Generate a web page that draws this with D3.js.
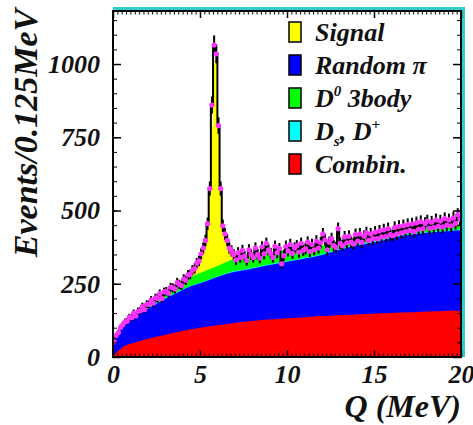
<!DOCTYPE html>
<html>
<head>
<meta charset="utf-8">
<script src="https://cdn.jsdelivr.net/npm/d3@7"></script>
<style>
body { margin: 0; background: #fff; }
</style>
</head>
<body>
<div id="chart"></div>
<script>
// background components sampled every 0.5 MeV (Q = 0 ... 20)
const gridQ = d3.range(0, 20.001, 0.5);
const combin = [2,32,45,54,62,69,76,83,89,95,100,104,108,112,116,120,123,126,128,130,132,134,136,138,140,141,143,144,145,147,148,149,150,152,153,154,155,156,157,158,158];
const randomPi = [28,73,85,94,103,113,123,131,140,147,152,158,165,171,175,176,179,182,186,189,193,196,200,203,208,216,223,230,236,239,243,249,256,260,264,266,269,270,271,273,275];
const dsDplus = [0,1,1,1,1,2,2,2,2,2,2,2,2,2,3,3,3,3,3,3,3,3,3,3,3,3,3,3,3,3,3,3,3,3,3,3,3,3,3,3,3];
const d0ThreeBody = [5,6,9,14,19,22,24,27,28,30,33,35,36,38,42,45,44,42,40,39,37,36,33,32,29,25,21,18,16,16,16,15,13,13,13,15,15,17,18,18,19];

// total fit including the signal, for the bins around the peak (bin low edges)
const signalQ = [4.25,4.375,4.5,4.625,4.75,4.875,5.0,5.125,5.25,5.375,5.5,5.625,5.75,5.875,6.0,6.125,6.25,6.375,6.5,6.625,6.75,6.875,7.0,7.125];
const signalTop = [280,286,293,301,312,326,345,368,395,440,560,790,1012,1005,790,585,462,420,402,384,360,348,340,338];

// data, 0.125 MeV bins from Q = 0 to 20
const dataCounts = [
  52,74,84,101,110,120,122,136, 134,150,140,156,158,172,162,180,
  180,194,184,202,200,216,200,222, 224,218,238,236,232,254,248,244,
  266,262,280,282,296,302,320,328, 352,372,398,455,575,860,1065,1035,
  790,575,448,420,398,372,362,350, 332,356,340,364,344,330,366,350,
  340,372,350,338,376,352,388,366, 354,340,378,356,370,318,346,378,
  362,384,354,372,380,358,388,364, 370,392,360,384,366,396,372,390,
  420,400,366,392,404,380,374,438, 388,380,410,390,412,392,386,418,
  396,420,392,412,424,398,420,404, 426,404,430,410,434,412,438,418,
  414,442,420,446,424,448,428,452, 432,454,428,458,436,462,438,456,
  464,440,460,442,468,446,464,444, 472,450,468,448,474,456,486,470
];

const xMajor = [0, 5, 10, 15, 20];
const yMajor = [0, 250, 500, 750, 1000];

const FONT = "'Liberation Serif', 'Times New Roman', 'DejaVu Serif', serif";
const W = 473, H = 425;
const x = d3.scaleLinear().domain([0, 20]).range([113, 461]);
const y = d3.scaleLinear().domain([0, 1181]).range([357, 11]);

const svg = d3.select("#chart").append("svg").attr("width", W).attr("height", H);

svg.append("defs").append("clipPath").attr("id", "plot")
  .append("rect").attr("x", 113).attr("y", 11).attr("width", 348).attr("height", 346);

const g = svg.append("g").attr("clip-path", "url(#plot)");

// signal drawn first, the background stack covers its lower part
const sigPts = signalQ.map((q, i) => [q, signalTop[i]]);
sigPts.push([signalQ[signalQ.length - 1] + 0.125, signalTop[signalTop.length - 1]]);
g.append("path").datum(sigPts)
  .attr("fill", "#ffff00")
  .attr("d", d3.area().x(d => x(d[0])).y0(y(0)).y1(d => y(d[1])).curve(d3.curveStepAfter));

// background stack
const rows = gridQ.map((q, i) => ({ q, combin: combin[i], randomPi: randomPi[i], dsDplus: dsDplus[i], d0ThreeBody: d0ThreeBody[i] }));
const keys = ["combin", "randomPi", "dsDplus", "d0ThreeBody"];
const colors = { combin: "#ff0000", randomPi: "#0000ff", dsDplus: "#00ffff", d0ThreeBody: "#00ff00", signal: "#ffff00" };
const stacked = d3.stack().keys(keys)(rows);
g.selectAll(".bkg").data(stacked.slice().reverse()).join("path")
  .attr("class", "bkg")
  .attr("fill", d => colors[d.key])
  .attr("d", d => d3.area().x(p => x(p.data.q)).y0(y(0)).y1(p => y(p[1])).curve(d3.curveMonotoneX)(d));

// data histogram, error bars and points
const binQ = d3.range(160).map(k => k * 0.125);
const histPts = binQ.map((q, i) => [q, dataCounts[i]]).concat([[20, dataCounts[159]]]);
g.append("path").datum(histPts)
  .attr("fill", "none").attr("stroke", "#000").attr("stroke-width", 2)
  .attr("d", d3.line().x(d => x(d[0])).y(d => y(d[1])).curve(d3.curveStepAfter));

g.selectAll(".err").data(dataCounts).join("line")
  .attr("class", "err")
  .attr("x1", (d, i) => x(binQ[i] + 0.0625)).attr("x2", (d, i) => x(binQ[i] + 0.0625))
  .attr("y1", d => y(d - Math.sqrt(d))).attr("y2", d => y(d + Math.sqrt(d)))
  .attr("stroke", "#000").attr("stroke-width", 2);

g.selectAll(".pt").data(dataCounts).join("circle")
  .attr("class", "pt")
  .attr("cx", (d, i) => x(binQ[i] + 0.0625)).attr("cy", d => y(d))
  .attr("r", 2.6).attr("fill", "#ff33ff");

// cyan shadow line on top and right
svg.append("path")
  .attr("d", `M${x(0)},8.5H${x(20) + 2.5}V${y(0)}`)
  .attr("fill", "none").attr("stroke", "#33cccc").attr("stroke-width", 3);

// frame
svg.append("rect").attr("x", x(0)).attr("y", y(1181)).attr("width", x(20) - x(0)).attr("height", y(0) - y(1181))
  .attr("fill", "none").attr("stroke", "#000").attr("stroke-width", 2);

// axes with inward ticks
function styleAxis(sel, w) {
  sel.attr("font-family", null).attr("font-size", null);
  sel.select(".domain").remove();
  sel.selectAll(".tick line").attr("stroke", "#000").attr("stroke-width", w);
}
const xMinor = d3.range(0, 20.001, 0.25);
const yMinor = d3.range(0, 1151, 50);

svg.append("g").attr("transform", `translate(0,${y(0)})`)
  .call(d3.axisBottom(x).tickValues(xMinor).tickSize(-3.5).tickFormat("")).call(styleAxis, 1);
svg.append("g").attr("transform", `translate(0,${y(0)})`)
  .call(d3.axisBottom(x).tickValues(xMajor).tickSize(-7).tickPadding(8).tickFormat(d3.format("d")))
  .call(styleAxis, 1.5);
svg.append("g").attr("transform", `translate(0,${y(1181)})`)
  .call(d3.axisTop(x).tickValues(xMinor).tickSize(-3.5).tickFormat("")).call(styleAxis, 1);
svg.append("g").attr("transform", `translate(0,${y(1181)})`)
  .call(d3.axisTop(x).tickValues(xMajor).tickSize(-7).tickFormat("")).call(styleAxis, 1.5);

svg.append("g").attr("transform", `translate(${x(0)},0)`)
  .call(d3.axisLeft(y).tickValues(yMinor).tickSize(-4).tickFormat("")).call(styleAxis, 1);
svg.append("g").attr("transform", `translate(${x(0)},0)`)
  .call(d3.axisLeft(y).tickValues(yMajor).tickSize(-8).tickPadding(13).tickFormat(d3.format("d")))
  .call(styleAxis, 1.5);
svg.append("g").attr("transform", `translate(${x(20)},0)`)
  .call(d3.axisRight(y).tickValues(yMinor).tickSize(-4).tickFormat("")).call(styleAxis, 1);
svg.append("g").attr("transform", `translate(${x(20)},0)`)
  .call(d3.axisRight(y).tickValues(yMajor).tickSize(-8).tickFormat("")).call(styleAxis, 1.5);

svg.selectAll(".tick text").attr("font-size", 26);

// axis titles
svg.append("text")
  .attr("transform", "translate(37,133) rotate(-90)")
  .attr("text-anchor", "middle").attr("font-size", 34)
  .text("Events/0.125MeV");
svg.append("text")
  .attr("x", 461).attr("y", 417).attr("text-anchor", "end").attr("font-size", 32)
  .text("Q (MeV)");

// legend
const legendKeys = ["signal", "randomPi", "d0ThreeBody", "dsDplus", "combin"];
const legendRows = [32, 65, 98, 131, 164];
const leg = svg.append("g");
legendKeys.forEach((k, i) => {
  const cy = legendRows[i];
  leg.append("rect").attr("x", 289).attr("y", cy - 10).attr("width", 12).attr("height", 20)
    .attr("fill", colors[k]).attr("stroke", "#000").attr("stroke-width", 1.5);
  const t = leg.append("text").attr("x", 315).attr("y", cy + 9).attr("font-size", 26);
  if (k === "signal") t.text("Signal");
  if (k === "randomPi") t.text("Random \u03c0");
  if (k === "combin") t.text("Combin.");
  if (k === "d0ThreeBody") {
    t.append("tspan").text("D");
    t.append("tspan").attr("font-size", 15).attr("dy", -11).text("0");
    t.append("tspan").attr("dy", 11).text(" 3body");
  }
  if (k === "dsDplus") {
    t.append("tspan").text("D");
    t.append("tspan").attr("font-size", 15).attr("dy", 6).text("s");
    t.append("tspan").attr("dy", -6).text(", D");
    t.append("tspan").attr("font-size", 15).attr("dy", -11).text("+");
  }
});

svg.selectAll("text")
  .attr("font-family", FONT).attr("font-weight", "bold").attr("font-style", "italic")
  .attr("fill", "#111");
</script>
</body>
</html>
